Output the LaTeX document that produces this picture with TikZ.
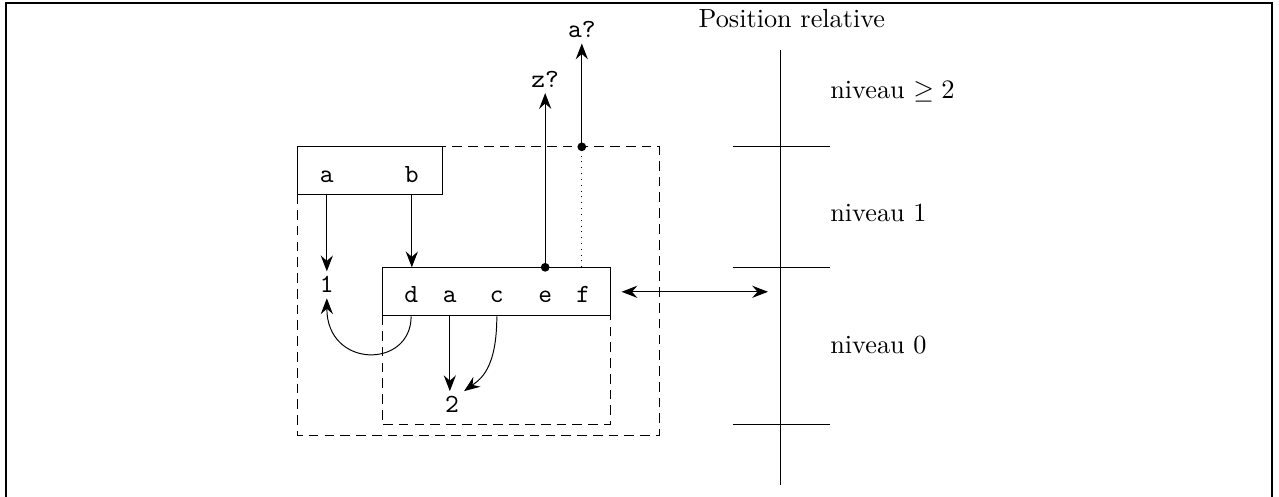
\documentclass[tikz,border=0pt]{standalone}
\usepackage{tikz}
\usetikzlibrary{arrows.meta,positioning,calc}
\tikzset{
  regbox/.style={draw, minimum width=#1, minimum height=0.695cm, inner sep=0pt},
  var/.style={font=\fontsize{10.8}{13}\selectfont\ttfamily, anchor=base, inner sep=2pt},
  zone/.style={draw, dash pattern=on 4pt off 2.5pt},
  ptr/.style={-{Stealth[length=6.5pt,width=5pt,inset=2.2pt]}},
  dblptr/.style={{Stealth[length=6.5pt,width=5pt,inset=2.2pt]}-{Stealth[length=6.5pt,width=5pt,inset=2.2pt]}},
  pin/.style={circle, fill, inner sep=0pt, minimum size=3.6pt},
  lvl/.style={anchor=base west, inner sep=0pt, font=\fontsize{10.8}{13}\selectfont}
}
\begin{document}
\begin{tikzpicture}
  \useasboundingbox (0,0) rectangle (18.51,7.19);
  \draw[semithick] (0.087,-0.3) -- (0.087,7.149) -- (18.41,7.149) -- (18.41,-0.3);

  % zones en pointilles
  \draw[zone] (4.31,5.065) rectangle (9.54,0.883);
  \draw[zone] (5.53,3.314) rectangle (8.83,1.042);

  % blocs
  \node[regbox=2.09cm, fill=white] (outer) at (5.355,4.718) {};
  \node[regbox=3.30cm, fill=white] (inner) at (7.18,2.967) {};

  \node[var] (oa) at (4.73,4.544) {a};
  \node[var] (ob) at (5.96,4.544) {b};
  \node[var] (id) at (5.95,2.81) {d};
  \node[var] (ia) at (6.51,2.81) {a};
  \node[var] (ic) at (7.19,2.81) {c};
  \node[var] (ie) at (7.89,2.81) {e};
  \node[var] (if) at (8.44,2.81) {f};

  \node[var] (one) at (4.73,2.95) {1};
  \node[var] (two) at (6.54,1.216) {2};
  \node[var] (qz) at (7.89,5.92) {z?};
  \node[var] (qa) at (8.42,6.64) {a?};

  \coordinate (pe) at (ie |- inner.north);
  \coordinate (pf) at (8.42,5.065);
  \node[pin] at (pe) {};
  \node[pin] at (pf) {};

  % liens
  \draw[ptr] (oa |- outer.south) -- (one);
  \draw[ptr] (ob |- outer.south) -- (ob |- inner.north);
  \draw[ptr] (id |- inner.south) .. controls (5.95,1.85) and (4.73,1.85) .. (one.south);
  \draw[ptr] (ia |- inner.south) -- (ia |- two.north);
  \draw[ptr] (ic |- inner.south) .. controls (7.19,1.85) and (6.95,1.7) .. (two.north east);
  \draw[ptr] (pe) -- (qz);
  \draw[ptr] (pf) -- (qa);
  \draw[dotted] (pf |- inner.north) -- (pf);

  % echelle des niveaux
  \node[lvl, anchor=base] (title) at (11.46,6.79) {Position relative};
  \draw (11.29,0.174) -- (11.29,6.47);
  \foreach \y in {5.065,3.314,1.042}
    \draw (10.61,\y) -- (12.01,\y);
  \coordinate (axis) at (11.29,2.967);
  \draw[dblptr] ([xshift=4.5pt]inner.east) -- ([xshift=-5pt]axis);

  \node[lvl] (n2) at (12.01,5.77) {niveau $\geq 2$};
  \node[lvl] (n1) at (12.01,3.98) {niveau 1};
  \node[lvl] (n0) at (12.01,2.08) {niveau 0};
\end{tikzpicture}
\end{document}
